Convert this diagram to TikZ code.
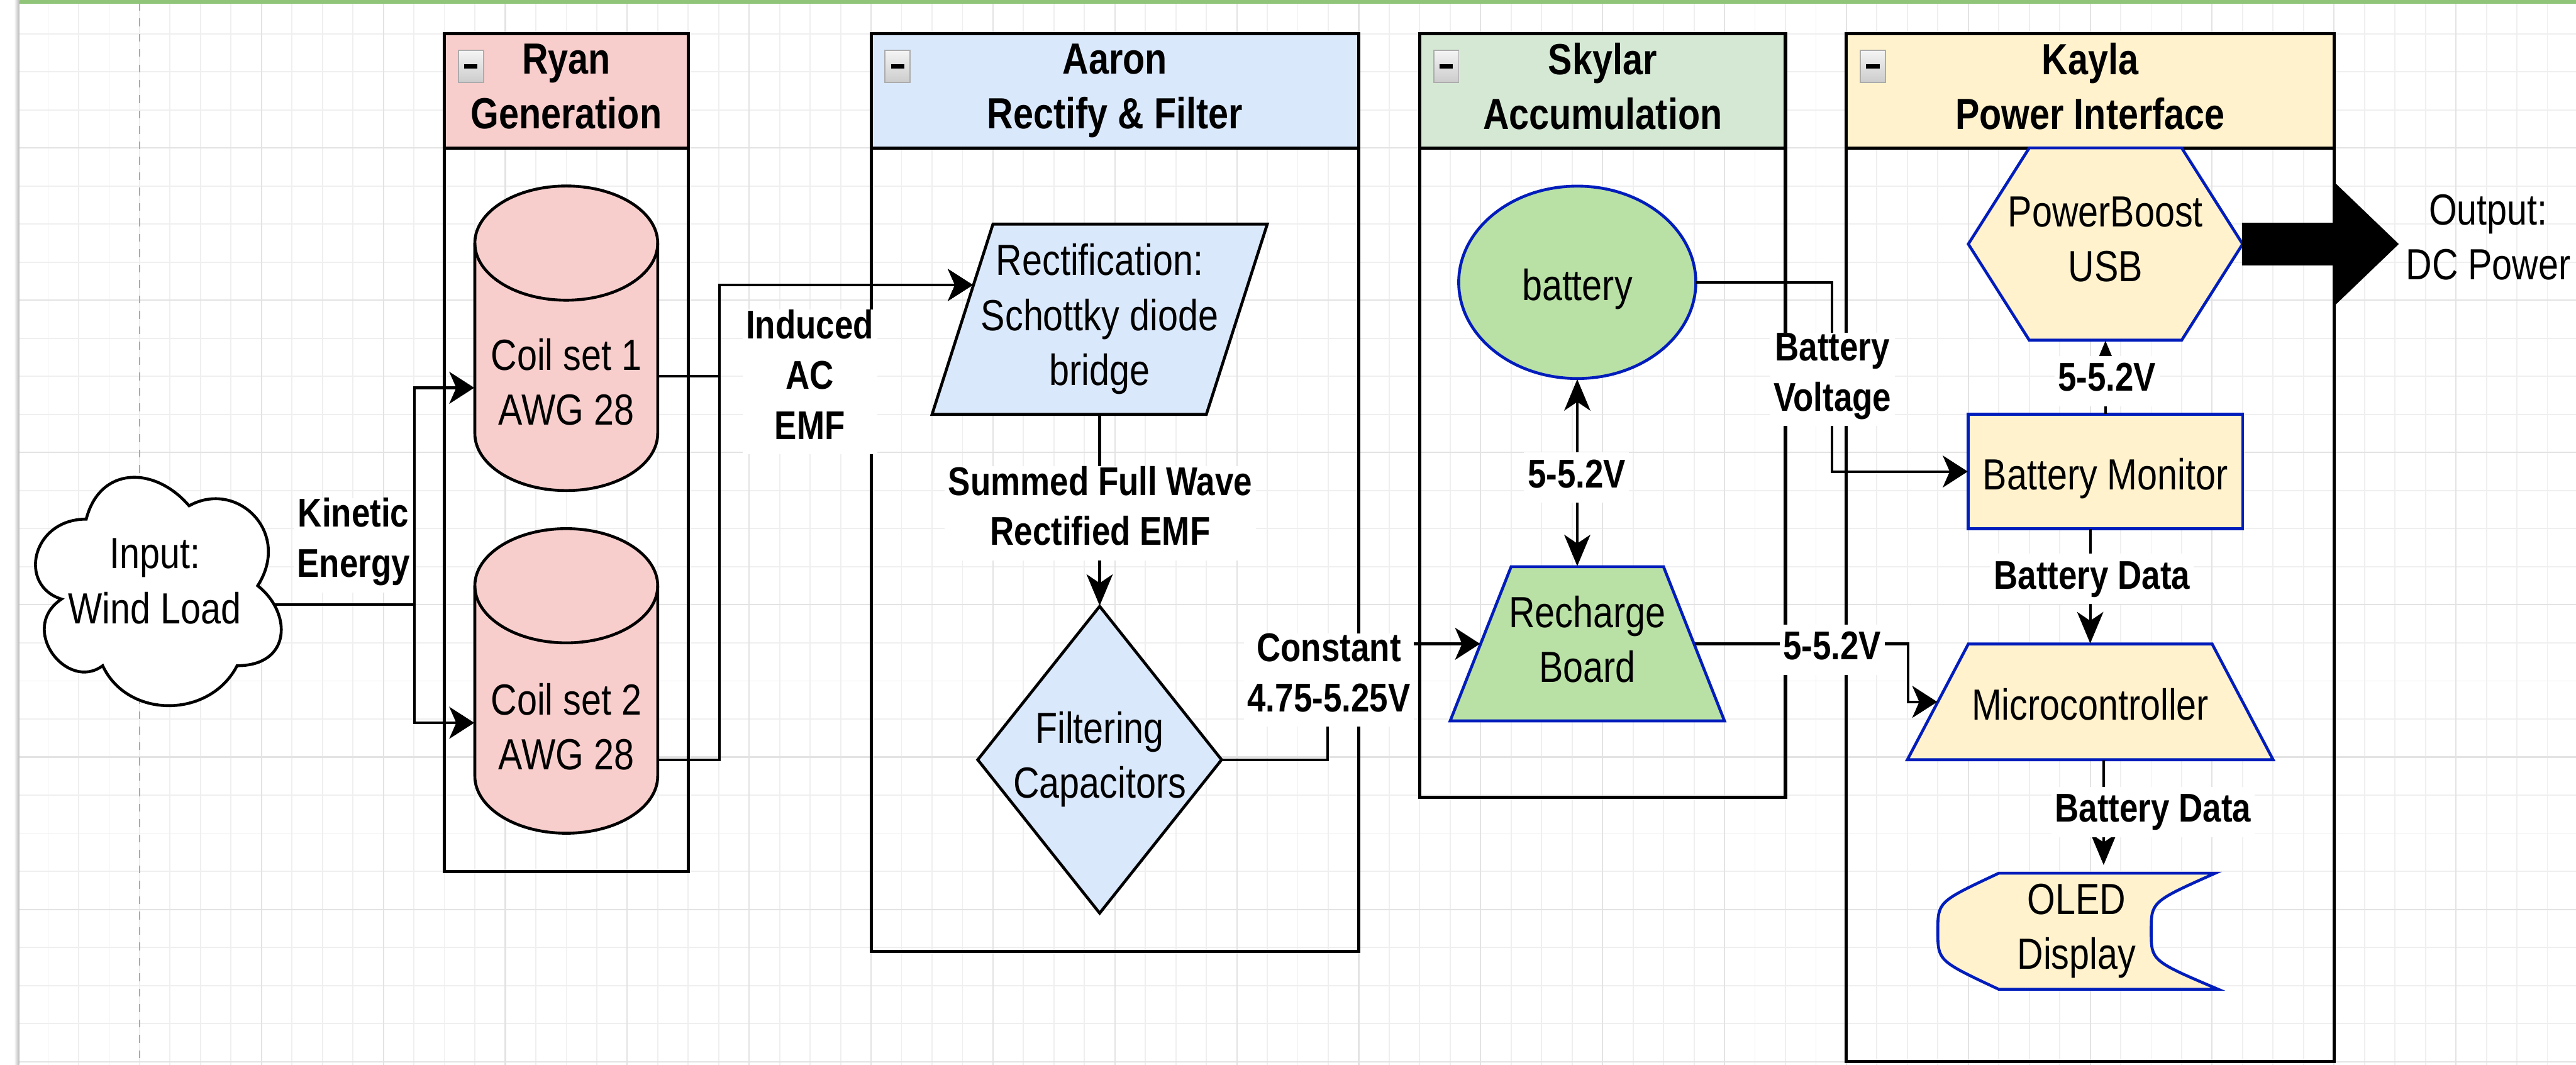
\documentclass[tikz,border=0pt]{standalone}
\usepackage{fontspec}
\setmainfont{Liberation Sans}[FakeStretch=0.83]
\usetikzlibrary{arrows.meta,calc}
\definecolor{redfill}{HTML}{F8CECC}
\definecolor{bluefill}{HTML}{DAE8FC}
\definecolor{greenhdr}{HTML}{D5E8D4}
\definecolor{greenfill}{HTML}{B9E0A5}
\definecolor{yellowfill}{HTML}{FFF2CC}
\definecolor{bluestroke}{HTML}{001DBC}
\definecolor{gridminor}{HTML}{EFEFEF}
\definecolor{gridmajor}{HTML}{E3E3E3}
\definecolor{topbar}{HTML}{8FC479}
\definecolor{dashgray}{HTML}{ABABAB}
\newcommand\nodefont{\fontsize{15}{18.86}\selectfont}
\newcommand\labfont{\fontsize{13.8}{17.3}\selectfont\bfseries}
\newcommand\nstrut{\rule[-3.24pt]{0pt}{18.86pt}}
\newcommand\lstrut{\rule[-5.19pt]{0pt}{17.3pt}}
\begin{document}
\begin{tikzpicture}[x={(1.049pt,0pt)}, y={(0pt,-1.31pt)},
  sz/.style 2 args={minimum width=#1*1.049pt, minimum height=#2*1.31pt},
  txt/.style={inner sep=0pt, align=center, font=\nodefont,
    execute at begin node=\nstrut},
  lab/.style={inner xsep=1.2pt, inner ysep=0pt, align=center, fill=white, font=\labfont,
    execute at begin node=\lstrut},
  box/.style={inner sep=0pt, draw=none},
  lane/.style={draw=black, line width=1.1pt, inner sep=0pt},
  hdr/.style={draw=black, line width=1.1pt, inner sep=0pt, align=center, font=\nodefont\bfseries,
    execute at begin node=\nstrut},
  conn/.style={draw=black, line width=0.9pt},
  hto/.style={conn, -{Stealth[length=8.6pt,width=11pt,inset=2.4pt]}},
  vto/.style={conn, -{Stealth[length=10.8pt,width=9pt,inset=3pt]}},
  vboth/.style={conn, {Stealth[length=10.8pt,width=9pt,inset=3pt]}-{Stealth[length=10.8pt,width=9pt,inset=3pt]}},
  blk/.style={draw=black, line width=1pt},
  blu/.style={draw=bluestroke, line width=1pt},
]
\useasboundingbox (-85.796,-38.855) rectangle (759.39,240.84);
\fill[white] (-85.796,-38.855) rectangle (759.39,240.84);
% grid
\foreach \gx in {-70,-60,...,750} \draw[gridminor, line width=0.4pt] (\gx,-38.1) -- (\gx,240.84);
\foreach \gy in {-30,-20,...,240} \draw[gridminor, line width=0.4pt] (-79.5,\gy) -- (759.39,\gy);
\foreach \gx in {0,40,...,720} \draw[gridmajor, line width=0.45pt] (\gx,-38.1) -- (\gx,240.84);
\foreach \gy in {0,40,...,240} \draw[gridmajor, line width=0.45pt] (-79.5,\gy) -- (759.39,\gy);
% page break line, frame
\draw[dashgray, line width=0.5pt, dash pattern=on 2.7pt off 2.6pt] (-40,-38.1) -- (-40,240.84);
\fill[topbar] (-79.5,-38.855) rectangle (759.39,-37.9);
\shade[left color=white, right color=gray!55] (-81.2,-38.855) rectangle (-79.5,240.84);

% swimlanes
\node[lane, sz={80}{220}] (ryan) at (100,80) {};
\node[hdr, fill=redfill, sz={80}{30}] (ryanh) at (100,-15) {Ryan\\Generation\nstrut};
\node[lane, sz={160}{241}] (aaron) at (280,90.5) {};
\node[hdr, fill=bluefill, sz={160}{30}] (aaronh) at (280,-15) {Aaron\\Rectify \& Filter\nstrut};
\node[lane, sz={120}{200.5}] (skylar) at (440,70.25) {};
\node[hdr, fill=greenhdr, sz={120}{30}] (skylarh) at (440,-15) {Skylar\\Accumulation\nstrut};
\node[lane, sz={160}{270}] (kayla) at (600,105) {};
\node[hdr, fill=yellowfill, sz={160}{30}] (kaylah) at (600,-15) {Kayla\\Power Interface\nstrut};
\foreach \lx in {60,200,380,520}{
  \shade[top color=gray!8, bottom color=gray!40, draw=gray!65, line width=0.4pt]
    (\lx+4.6,-25.7) rectangle (\lx+12.8,-17.2);
  \draw[line width=1.5pt] (\lx+6.5,-21.45) -- (\lx+10.9,-21.45);
}

% cloud
\begin{scope}[shift={(-80,80)}, xscale=90, yscale=70]
\filldraw[blk, fill=white] (0.25,0.25) .. controls (0.05,0.25) and (0,0.5) .. (0.16,0.55)
  .. controls (0,0.66) and (0.18,0.9) .. (0.31,0.8)
  .. controls (0.4,1) and (0.7,1) .. (0.8,0.8)
  .. controls (1,0.8) and (1,0.6) .. (0.875,0.5)
  .. controls (1,0.3) and (0.8,0.1) .. (0.625,0.2)
  .. controls (0.5,0.05) and (0.3,0.05) .. (0.25,0.25) -- cycle;
\end{scope}
\node[txt, sz={90}{70}] (cloud) at (-35,115) {Input:\\Wind Load\nstrut};

% coils
\foreach \cy in {10,100}{
\begin{scope}[shift={(70,\cy)}]
\filldraw[blk, fill=redfill] (0,15) .. controls (0,6.72) and (13.43,0) .. (30,0)
  .. controls (46.57,0) and (60,6.72) .. (60,15) -- (60,65)
  .. controls (60,73.28) and (46.57,80) .. (30,80)
  .. controls (13.43,80) and (0,73.28) .. (0,65) -- cycle;
\draw[blk] (0,15) .. controls (0,23.28) and (13.43,30) .. (30,30)
  .. controls (46.57,30) and (60,23.28) .. (60,15);
\end{scope}
}
\node[box, sz={60}{80}] (coil1) at (100,50) {};
\node[txt] (coil1t) at (100,62.6) {Coil set 1\\AWG 28\nstrut};
\node[box, sz={60}{80}] (coil2) at (100,140) {};
\node[txt] (coil2t) at (100,153.2) {Coil set 2\\AWG 28\nstrut};

% Aaron shapes
\filldraw[blk, fill=bluefill] (240,20) -- (330,20) -- (310,70) -- (220,70) -- cycle;
\node[txt, sz={110}{50}] (rect) at (275,45) {Rectification:\\Schottky diode\\bridge\nstrut};
\filldraw[blk, fill=bluefill] (275,120.4) -- (315,160.7) -- (275,201) -- (235,160.7) -- cycle;
\node[txt, sz={80}{80.6}] (diam) at (275,160.7) {Filtering\\Capacitors\nstrut};

% Skylar shapes
\filldraw[blu, fill=greenfill] (431.7,35.3) ellipse [x radius=40.8pt, y radius=33.1pt];
\node[txt, sz={77.8}{50.6}] (batt) at (431.7,35.3) {battery\nstrut};
\filldraw[blu, fill=greenfill] (410,110) -- (460,110) -- (480,150.5) -- (390,150.5) -- cycle;
\node[txt, sz={90}{40.5}] (rech) at (435,130.25) {Recharge\\Board\nstrut};

% Kayla shapes
\filldraw[blu, fill=yellowfill] (580,0) -- (630,0) -- (650,25.25) -- (630,50.5) -- (580,50.5) -- (560,25.25) -- cycle;
\node[txt, sz={90}{50.5}] (hex) at (605,25.25) {PowerBoost\\USB\nstrut};
\filldraw[blu, fill=yellowfill] (560,70) rectangle (650,100);
\node[txt, sz={90}{30}] (bm) at (605,85) {Battery Monitor\nstrut};
\filldraw[blu, fill=yellowfill] (560,130.3) -- (640,130.3) -- (660,160.7) -- (540,160.7) -- cycle;
\node[txt, sz={120}{30.4}] (micro) at (600,145.5) {Microcontroller\nstrut};
\filldraw[blu, fill=yellowfill] (570,190.5) -- (641,190.5) .. controls (620,198) .. (620,205.75)
  .. controls (620,213.5) .. (642,221) -- (570,221) .. controls (550,213.5) .. (550,205.75)
  .. controls (550,198) .. (570,190.5) -- cycle;
\node[txt, sz={91}{30.5}] (oled) at (595.5,205.75) {OLED\\Display\nstrut};

\node[txt] (outp) at (730.6,24.7) {Output:\\DC Power\nstrut};

% connectors
\draw[hto] ($(cloud.east)+(-5.9,5)$) -- ++(45.9,0) |- ($(coil1.west)+(0,13)$);
\draw[hto] ($(cloud.east)+(-5.9,5)$) -- ++(45.9,0) |- ($(coil2.west)+(0,11)$);
\draw[hto] ($(coil1.east)+(0,10)$) -- ++(20,0) |- ($(rect.west)+(13.6,-9)$);
\draw[hto] ($(coil2.east)+(0,20.7)$) -- ++(20,0) |- ($(rect.west)+(13.6,-9)$);
\draw[vto] (rect.south) -- (diam.north);
\draw[hto] (diam.east) -| ($(rech.west)+(-40,0)$) -- ($(rech.west)+(10,0)$);
\draw[vboth] (batt.south) -- (batt.south |- rech.north);
\draw[hto] (batt.east) -| ($(bm.west)+(-44.6,0)$) -- (bm.west);
\draw[hto] ($(rech.east)+(-10,0)$) -| ($(micro.west)+(0.5,0)$) -- ($(micro.west)+(10,0)$);
\draw[vto] (bm.north) -- (hex.south);
\draw[vto] (bm.south -| micro.north) -- (micro.north);
\draw[vto] ($(micro.south)+(4.4,0)$) -- ($(oled.north)+(8.9,-2)$);
\filldraw[black, line width=0.8pt] ($(hex.east)+(0,-5.3)$) -- ++(30,0) -- ++(0,-10.45)
  -- ($(hex.east)+(50.5,0)$) -- ($(hex.east)+(30,15.75)$) -- ++(0,-10.45)
  -- ($(hex.east)+(0,5.3)$) -- cycle;

% edge labels
\node[lab] (lkin) at (30.2,104.35) {Kinetic\\Energy\lstrut};
\node[lab] (lind) at (179.9,61.5) {Induced\\AC\\EMF\lstrut};
\node[lab] (lsum) at (275.2,95.95) {Summed Full Wave\\Rectified EMF\lstrut};
\node[lab] (lcon) at (350.2,139.8) {Constant\\4.75-5.25V\lstrut};
\node[lab] (lb1) at (431.5,86.6) {5-5.2V\lstrut};
\node[lab] (lbv) at (515.4,60.8) {Battery\\Voltage\lstrut};
\node[lab] (lhx) at (605.5,61.25) {5-5.2V\lstrut};
\node[lab] (lbd1) at (600.6,113.2) {Battery Data\lstrut};
\node[lab] (lrm) at (515.3,131.8) {5-5.2V\lstrut};
\node[lab] (lbd2) at (620.6,174.4) {Battery Data\lstrut};
\end{tikzpicture}
\end{document}
